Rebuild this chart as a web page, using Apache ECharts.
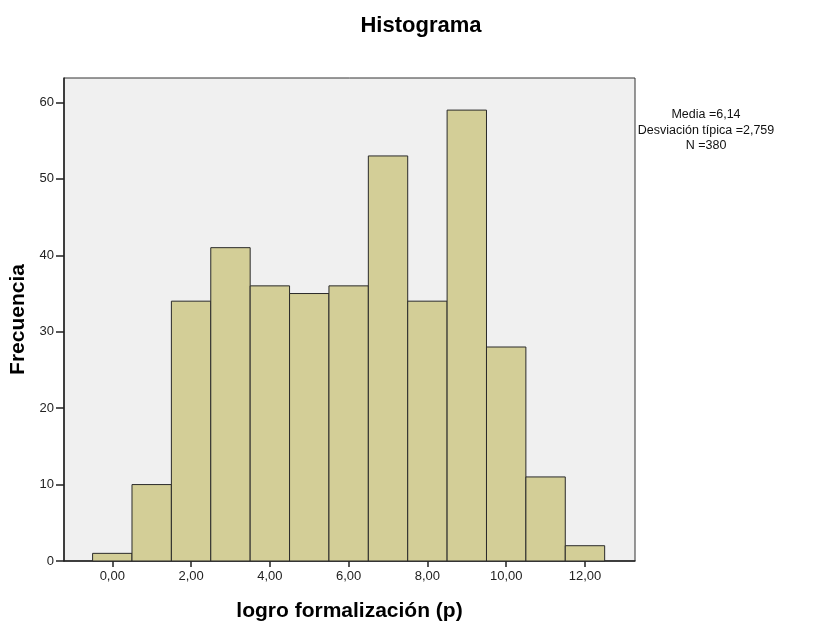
<!DOCTYPE html>
<html><head><meta charset="utf-8">
<script src="https://cdn.jsdelivr.net/npm/echarts@6/dist/echarts.min.js"></script>
<style>html,body{margin:0;padding:0;background:#fff}#c{width:822px;height:628px}</style>
</head><body><div id="c"></div>
<script>
const binCenters = [0,1,2,3,4,5,6,7,8,9,10,11,12];
const frequencies = [1,10,34,41,36,35,36,53,34,59,28,11,2];
const xTickValues = [0,2,4,6,8,10,12];
const yTickValues = [0,10,20,30,40,50,60];
const statsLines = ['Media =6,14','Desviación típica =2,759','N =380'];

const chart = echarts.init(document.getElementById('c'));
const data = binCenters.map((c,i)=>[c, frequencies[i]]);
chart.setOption({
  animation:false,
  backgroundColor:'#fff',
  title:{text:'Histograma',left:416,top:10,textAlign:'center',
    textStyle:{fontFamily:'Arial, Liberation Sans',fontSize:22,fontWeight:'bold',color:'#000'}},
  graphic:[{type:'text',x:706,y:107,style:{text:statsLines.join('\n'),
    font:'12.5px Arial, Liberation Sans',fill:'#111',align:'center',verticalAlign:'top',lineHeight:15.5}}],
  grid:{left:64,top:78,right:187,bottom:67,outerBoundsMode:'none',containLabel:false,show:true,backgroundColor:'#f0f0f0',borderColor:'#333',borderWidth:1},
  xAxis:{type:'value',min:-1.226,max:13.27,
    name:'logro formalización (p)',nameLocation:'middle',nameGap:40,
    nameTextStyle:{fontFamily:'Arial, Liberation Sans',fontSize:21,fontWeight:'bold',color:'#000'},
    axisLine:{show:true,onZero:false,lineStyle:{color:'#222',width:1.5}},
    axisTick:{show:true,length:6,customValues:xTickValues,lineStyle:{color:'#222',width:1.5}},
    axisLabel:{customValues:xTickValues,formatter:v=>v.toFixed(2).replace('.',','),
      fontFamily:'Arial, Liberation Sans',fontSize:13,color:'#222',margin:9},
    splitLine:{show:false}},
  yAxis:{type:'value',min:0,max:63.2,
    name:'Frecuencia',nameLocation:'middle',nameGap:34,
    nameTextStyle:{fontFamily:'Arial, Liberation Sans',fontSize:21,fontWeight:'bold',color:'#000'},
    axisLine:{show:true,onZero:false,lineStyle:{color:'#222',width:1.5}},
    axisTick:{show:true,length:8,customValues:yTickValues,lineStyle:{color:'#222',width:1.5}},
    axisLabel:{customValues:yTickValues,fontFamily:'Arial, Liberation Sans',fontSize:13,color:'#222',margin:10},
    splitLine:{show:false}},
  series:[{type:'custom',data:data,
    renderItem:(params,api)=>{
      const x=api.value(0), y=api.value(1);
      const p0=api.coord([x-0.5,0]), p1=api.coord([x+0.5,y]);
      return {type:'rect',shape:{x:p0[0],y:p1[1],width:p1[0]-p0[0],height:p0[1]-p1[1]},
        style:{fill:'#d3ce97',stroke:'#2a2a2a',lineWidth:1}};
    },
    encode:{x:0,y:1}}]
});
</script></body></html>
